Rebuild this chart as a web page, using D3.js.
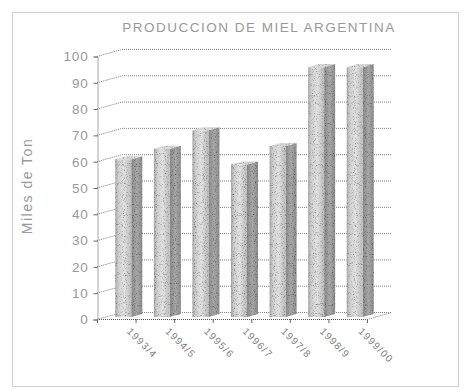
<!DOCTYPE html>
<html>
<head>
<meta charset="utf-8">
<script src="https://cdn.jsdelivr.net/npm/d3@7/dist/d3.min.js"></script>
<style>
  html, body { margin: 0; padding: 0; background: #fff; }
  svg { display: block; }
  text { font-family: "Liberation Sans", Arial, sans-serif; }
</style>
</head>
<body>
<svg id="chart" width="470" height="390"></svg>
<script>
// Honey production, thousands of tonnes, by season
const categories = ["1993/4", "1994/5", "1995/6", "1996/7", "1997/8", "1998/9", "1999/00"];
const values = [60, 64, 71, 58, 65, 95, 95];
const yTicks = [0, 10, 20, 30, 40, 50, 60, 70, 80, 90, 100];
const title = "PRODUCCION DE MIEL ARGENTINA";
const yTitle = "Miles de Ton";

const svg = d3.select("#chart");

// 3D projection: depth vector of the box
const depthDX = 25, depthDY = -7;
const front = { left: 97, right: 367, bottom: 319, top: 56 };

const x = d3.scaleBand().domain(categories).range([front.left, front.right]).padding(0);
const y = d3.scaleLinear().domain([0, 100]).range([front.bottom, front.top]);

const defs = svg.append("defs");

// stippled grain for the columns
const grain = defs.append("filter").attr("id", "grain")
  .attr("x", "0").attr("y", "0").attr("width", "1").attr("height", "1");
grain.append("feTurbulence").attr("type", "fractalNoise")
  .attr("baseFrequency", "1.1").attr("numOctaves", "1").attr("seed", "3").attr("result", "noise");
grain.append("feColorMatrix").attr("in", "noise").attr("type", "matrix")
  .attr("values", "0 0 0 0 0  0 0 0 0 0  0 0 0 0 0  0 0 0 -2.6 1.2").attr("result", "dots");
grain.append("feComposite").attr("in", "dots").attr("in2", "SourceGraphic").attr("operator", "in").attr("result", "dotsIn");
grain.append("feComposite").attr("in", "dotsIn").attr("in2", "SourceGraphic").attr("operator", "over");

const gFront = defs.append("linearGradient").attr("id", "gFront").attr("x1", 0).attr("x2", 1).attr("y1", 0).attr("y2", 0);
gFront.append("stop").attr("offset", "0%").attr("stop-color", "#a8a8a8");
gFront.append("stop").attr("offset", "20%").attr("stop-color", "#d0d0d0");
gFront.append("stop").attr("offset", "55%").attr("stop-color", "#e2e2e2");
gFront.append("stop").attr("offset", "100%").attr("stop-color", "#bcbcbc");
const gSide = defs.append("linearGradient").attr("id", "gSide").attr("x1", 0).attr("x2", 1).attr("y1", 0).attr("y2", 0);
gSide.append("stop").attr("offset", "0%").attr("stop-color", "#8a8a8a");
gSide.append("stop").attr("offset", "50%").attr("stop-color", "#a8a8a8");
gSide.append("stop").attr("offset", "100%").attr("stop-color", "#8c8c8c");

// outer frame
svg.append("rect").attr("x", 12.5).attr("y", 12.5).attr("width", 446).attr("height", 374)
  .attr("fill", "none").attr("stroke", "#a0a0a0").attr("stroke-dasharray", "1,1");

// title
svg.append("text").attr("x", 259).attr("y", 32).attr("text-anchor", "middle")
  .attr("font-size", 13.5).attr("fill", "#999").attr("letter-spacing", "1.5").text(title);

// y-axis title
svg.append("text").attr("transform", "translate(32,186) rotate(-90)").attr("text-anchor", "middle")
  .attr("font-size", 14).attr("fill", "#999").attr("letter-spacing", "1.5").text(yTitle);

const gridStyle = sel => sel.attr("stroke", "#808080").attr("stroke-width", 1).attr("stroke-dasharray", "1,1").attr("fill", "none");

// walls: slanted side-wall lines and back-wall horizontal lines
const grid = svg.append("g");
grid.selectAll("line.side").data(yTicks).join("line").attr("class", "side")
  .attr("x1", front.left).attr("y1", d => y(d) + 0.5)
  .attr("x2", front.left + depthDX).attr("y2", d => y(d) + depthDY + 0.5)
  .call(gridStyle);
grid.selectAll("line.back").data(yTicks).join("line").attr("class", "back")
  .attr("x1", front.left + depthDX).attr("y1", d => y(d) + depthDY + 0.5)
  .attr("x2", front.right + depthDX).attr("y2", d => y(d) + depthDY + 0.5)
  .call(gridStyle);

// floor edges
grid.append("line").attr("x1", front.left).attr("y1", y(0) + 0.5).attr("x2", front.right).attr("y2", y(0) + 0.5)
  .attr("stroke", "#555").attr("stroke-dasharray", "1,1");
grid.append("line").attr("x1", front.right).attr("y1", y(0) + 0.5)
  .attr("x2", front.right + depthDX).attr("y2", y(0) + depthDY + 0.5).call(gridStyle);

// y axis
const yAxis = d3.axisLeft(y).tickValues(yTicks).tickSize(4).tickPadding(5);
const gy = svg.append("g").attr("transform", `translate(${front.left + 0.5},0.5)`).call(yAxis);
gy.select(".domain").attr("stroke", "#555").attr("stroke-dasharray", "1,1");
gy.selectAll(".tick line").attr("stroke", "#666");
gy.selectAll(".tick text").attr("font-size", 13.5).attr("fill", "#999").attr("letter-spacing", "0.8")
  .attr("font-family", "\"Liberation Sans\", Arial, sans-serif");

// x axis ticks at category boundaries
const bounds = categories.map(c => x(c)).concat([front.right]);
svg.append("g").selectAll("line").data(bounds).join("line")
  .attr("x1", d => d + 0.5).attr("x2", d => d + 0.5)
  .attr("y1", y(0)).attr("y2", y(0) + 4).attr("stroke", "#666");

// columns drawn as boxes sitting in the middle of the depth
const d0 = 0.28, d1 = 0.72, faceW = 16;
const bars = svg.append("g").attr("filter", "url(#grain)");
categories.forEach((c, i) => {
  const v = values[i];
  const fx = x(c) + (x.bandwidth() - faceW) / 2 + depthDX * d0;
  const fyTop = y(v) + depthDY * d0;
  const fyBot = y(0) + depthDY * d0;
  const sdx = depthDX * (d1 - d0), sdy = depthDY * (d1 - d0);
  const g = bars.append("g");
  // side face
  g.append("path")
    .attr("d", `M${fx + faceW},${fyTop} L${fx + faceW + sdx},${fyTop + sdy} L${fx + faceW + sdx},${fyBot + sdy} L${fx + faceW},${fyBot} Z`)
    .attr("fill", "url(#gSide)");
  // top face
  g.append("path")
    .attr("d", `M${fx},${fyTop} L${fx + sdx},${fyTop + sdy} L${fx + faceW + sdx},${fyTop + sdy} L${fx + faceW},${fyTop} Z`)
    .attr("fill", "#d8d8d8");
  // front face
  g.append("rect").attr("x", fx).attr("y", fyTop).attr("width", faceW).attr("height", fyBot - fyTop)
    .attr("fill", "url(#gFront)");
});

// category labels, rotated
svg.append("g").selectAll("text").data(categories).join("text")
  .attr("transform", c => `translate(${x(c) + x.bandwidth() / 2 + 10},${y(0) + 13}) rotate(45)`)
  .attr("font-size", 10).attr("letter-spacing", "1.2").attr("fill", "#808080")
  .text(d => d);
</script>
</body>
</html>
